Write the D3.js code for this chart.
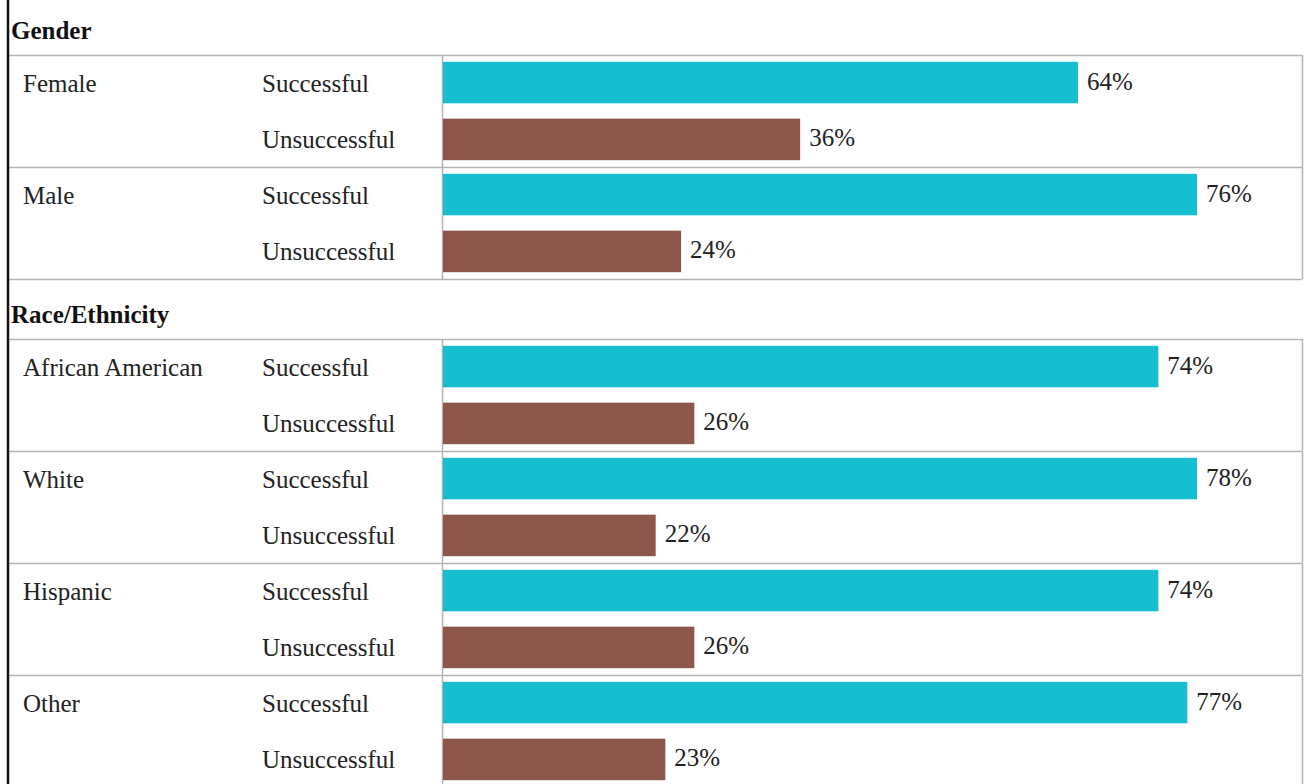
<!DOCTYPE html>
<html>
<head>
<meta charset="utf-8">
<script src="https://cdn.jsdelivr.net/npm/d3@7"></script>
<style>
  html, body { margin: 0; padding: 0; background: #fff; }
  svg { display: block; }
</style>
</head>
<body>
<svg id="chart" width="1304" height="784"></svg>
<script>
// ---- Data ----
const sectionTitles = ["Gender", "Race/Ethnicity"];
const outcomes = ["Successful", "Unsuccessful"];
const genderGroups = ["Female", "Male"];
const genderSuccessful = [64, 76];
const genderUnsuccessful = [36, 24];
const raceGroups = ["African American", "White", "Hispanic", "Other"];
const raceSuccessful = [74, 78, 74, 77];
const raceUnsuccessful = [26, 22, 26, 23];
const outcomeColors = ["#17becf", "#8c564b"];

const sections = [
  { title: sectionTitles[0], groups: genderGroups, values: [genderSuccessful, genderUnsuccessful], titleY: 39, top: 55 },
  { title: sectionTitles[1], groups: raceGroups, values: [raceSuccessful, raceUnsuccessful], titleY: 323, top: 339 }
];

// ---- Layout ----
const W = 1304, H = 784;
const leftX = 9, rightX = 1302, barX0 = 443, barX1 = 1197, divX = 442;
const groupH = 112;
const fontSize = 25;
const FONT = "'Liberation Serif', 'Times New Roman', Times, 'DejaVu Serif', serif";

const svg = d3.select("#chart")
  .attr("font-family", FONT)
  .style("font-family", FONT);
const color = d3.scaleOrdinal().domain(outcomes).range(outcomeColors);

sections.forEach(sec => {
  const rows = [];
  sec.groups.forEach((g, gi) => {
    outcomes.forEach((o, oi) => rows.push({ group: g, outcome: o, value: sec.values[oi][gi], first: oi === 0 }));
  });
  const maxV = d3.max(rows, d => d.value);
  const x = d3.scaleLinear().domain([0, maxV]).range([barX0, barX1]);
  const yG = d3.scaleBand().domain(sec.groups).range([sec.top, sec.top + groupH * sec.groups.length]);
  const yO = d3.scaleBand().domain(outcomes).range([0, groupH]).paddingInner(0.27).paddingOuter(0.12);

  const g = svg.append("g");

  g.append("text").attr("x", 11).attr("y", sec.titleY)
    .attr("font-size", fontSize).attr("font-weight", "bold").attr("fill", "#111").text(sec.title);

  const tableBottom = sec.top + groupH * sec.groups.length;
  const lineYs = sec.groups.map(d => yG(d)).concat([tableBottom]);
  g.selectAll("line.h").data(lineYs).join("line")
    .attr("x1", leftX).attr("x2", rightX)
    .attr("y1", d => Math.round(d) + 0.5).attr("y2", d => Math.round(d) + 0.5)
    .attr("stroke", "#b4b4b4").attr("stroke-width", 1.5);
  [divX, rightX].forEach(xx => {
    g.append("line").attr("x1", xx + 0.5).attr("x2", xx + 0.5)
      .attr("y1", sec.top).attr("y2", tableBottom)
      .attr("stroke", "#b4b4b4").attr("stroke-width", 1.5);
  });

  g.selectAll("rect.bar").data(rows).join("rect")
    .attr("x", x(0))
    .attr("y", d => yG(d.group) + yO(d.outcome))
    .attr("width", d => x(d.value) - x(0))
    .attr("height", yO.bandwidth())
    .attr("fill", d => color(d.outcome));

  g.selectAll("text.grp").data(rows.filter(d => d.first)).join("text")
    .attr("x", 23)
    .attr("y", d => yG(d.group) + yO(d.outcome) + yO.bandwidth() / 2 + 9)
    .attr("font-size", fontSize).attr("fill", "#222").text(d => d.group);

  g.selectAll("text.out").data(rows).join("text")
    .attr("x", 262)
    .attr("y", d => yG(d.group) + yO(d.outcome) + yO.bandwidth() / 2 + 9)
    .attr("font-size", fontSize).attr("fill", "#222").text(d => d.outcome);

  g.selectAll("text.val").data(rows).join("text")
    .attr("x", d => x(d.value) + 9)
    .attr("y", d => yG(d.group) + yO(d.outcome) + yO.bandwidth() / 2 + 7)
    .attr("font-size", fontSize).attr("fill", "#222").text(d => d.value + "%");
});

svg.append("line").attr("x1", 8).attr("x2", 8).attr("y1", 0).attr("y2", H)
  .attr("stroke", "#111").attr("stroke-width", 2.5);
</script>
</body>
</html>
